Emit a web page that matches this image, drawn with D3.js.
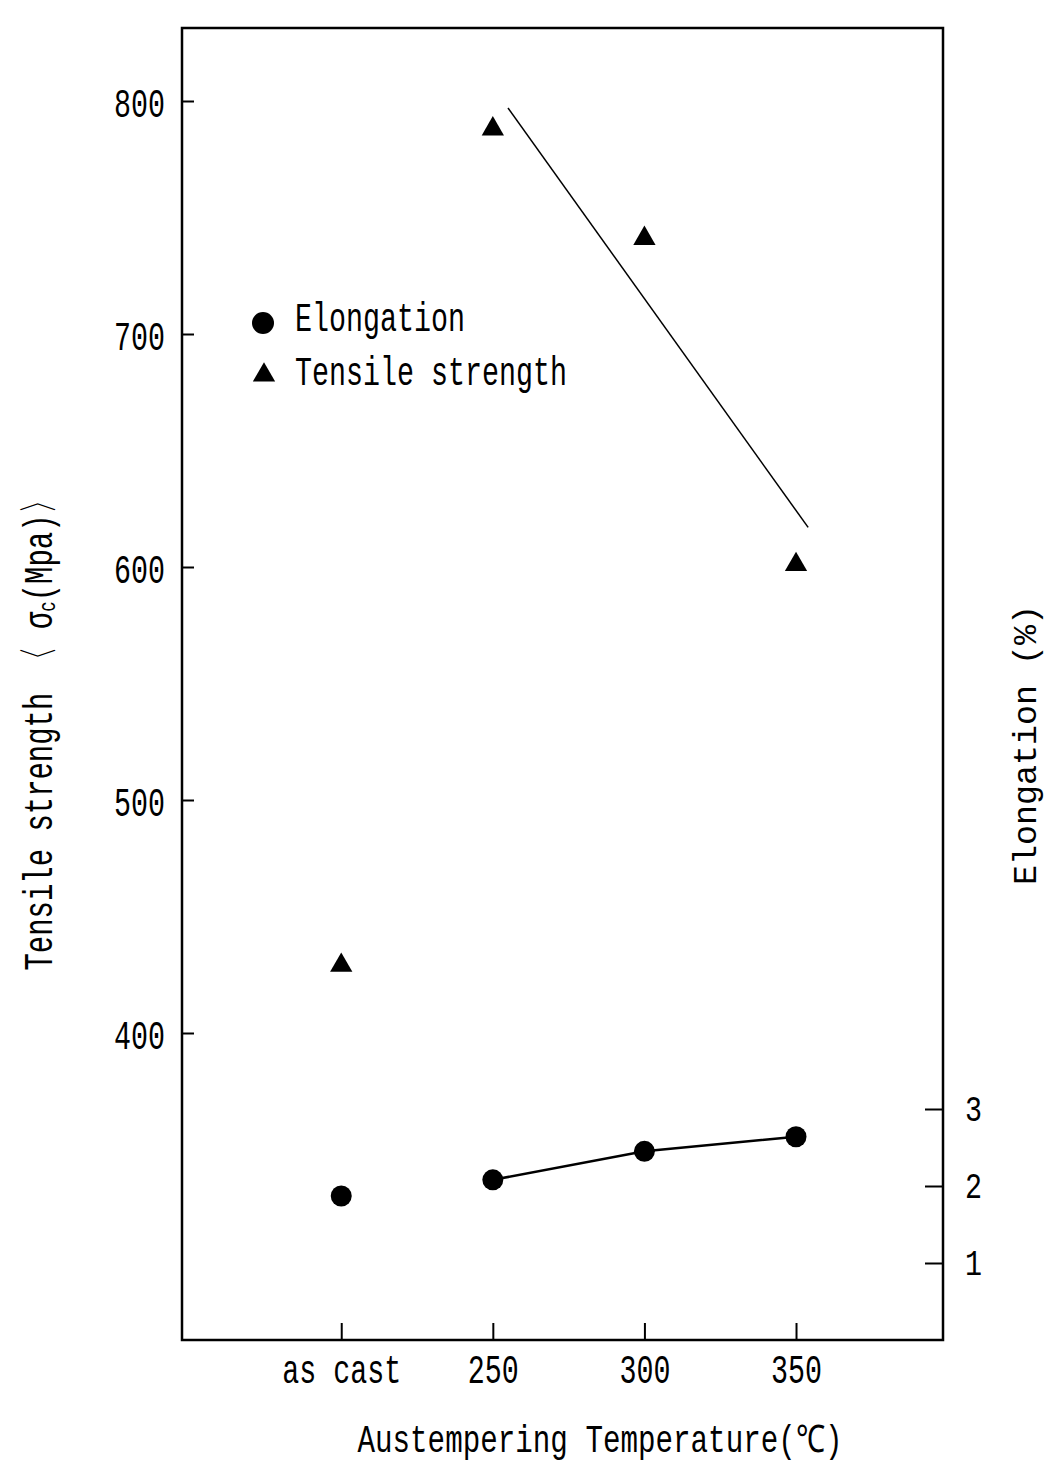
<!DOCTYPE html>
<html>
<head>
<meta charset="utf-8">
<script src="https://cdn.jsdelivr.net/npm/d3@7"></script>
<style>
  body { margin: 0; background: #fff; }
</style>
</head>
<body>
<div class="js-chart"></div>
<script>
let categories = ["as cast", "250", "300", "350"];
let tensile = [429, 788, 741, 601];          // MPa, triangles
let elongation = [1.87, 2.08, 2.45, 2.64];   // %, circles
let tensileTicks = [400, 500, 600, 700, 800];
let elongTicks = [1, 2, 3];
// straight trend line drawn through the tensile points (deg C, MPa)
let trendTemp = [255, 354];
let trendMpa = [797, 617];

let width = 1045,
    height = 1462;
let frame = {l: 182, r: 943, t: 28, b: 1340};
let font = "'Liberation Mono', 'DejaVu Sans Mono', monospace";
let adv = 17; // character advance of the narrow typewriter face

let x = d3.scalePoint().domain(categories).range([frame.l, frame.r]).padding(1.01).align(0.52);
let tempX = d3.scaleLinear().domain([250, 350]).range([x("250"), x("350")]);
let yL = d3.scaleLinear().domain([400, 800]).range([1033, 101]);
let yR = d3.scaleLinear().domain([0, 3]).range([1340, 1109]);

let svg = d3.select(".js-chart").append("svg")
    .attr("width", width)
    .attr("height", height)
    .style("font-family", font);

function squeeze(sel) {
    sel.attr("textLength", function() { return this.textContent.length * adv; })
       .attr("lengthAdjust", "spacingAndGlyphs");
}

// frame
svg.append("rect")
    .attr("x", frame.l).attr("y", frame.t)
    .attr("width", frame.r - frame.l).attr("height", frame.b - frame.t)
    .attr("fill", "none").attr("stroke", "#000").attr("stroke-width", 2.5);

// left axis (ticks inward)
let gL = svg.append("g").attr("transform", `translate(${frame.l},0)`)
    .call(d3.axisLeft(yL).tickValues(tensileTicks).tickSize(-12).tickPadding(17));
gL.select(".domain").remove();
gL.selectAll("line").attr("stroke-width", 2);
gL.selectAll("text").attr("dy", null).attr("y", 15)
    .style("font-family", font).style("font-size", "40px").attr("fill", "#000").call(squeeze);

// right axis, elongation (ticks inward)
let gR = svg.append("g").attr("transform", `translate(${frame.r},0)`)
    .call(d3.axisRight(yR).tickValues(elongTicks).tickFormat(d3.format("d")).tickSize(-18).tickPadding(22));
gR.select(".domain").remove();
gR.selectAll("line").attr("stroke-width", 2);
gR.selectAll("text").attr("dy", null).attr("y", 11)
    .style("font-family", font).style("font-size", "36px").attr("fill", "#000").call(squeeze);

// bottom axis (ticks inward)
let gB = svg.append("g").attr("transform", `translate(0,${frame.b})`)
    .call(d3.axisBottom(x).tickSize(-17).tickPadding(0));
gB.select(".domain").remove();
gB.selectAll("line").attr("stroke-width", 2);
gB.selectAll("text").attr("dy", null).attr("y", 43)
    .style("font-family", font).style("font-size", "40px").attr("fill", "#000").call(squeeze);

// trend line for tensile strength
svg.append("line")
    .attr("x1", tempX(trendTemp[0])).attr("y1", yL(trendMpa[0]))
    .attr("x2", tempX(trendTemp[1])).attr("y2", yL(trendMpa[1]))
    .attr("stroke", "#000").attr("stroke-width", 1.5);

// elongation line (heat-treated samples only)
let line = d3.line().x(d => x(d.c)).y(d => yR(d.v));
let elongData = categories.map((c, i) => ({c: c, v: elongation[i]}));
svg.append("path")
    .datum(elongData.slice(1))
    .attr("d", line)
    .attr("fill", "none").attr("stroke", "#000").attr("stroke-width", 2.5);

svg.selectAll("circle.elong")
    .data(elongData)
    .join("circle")
    .attr("class", "elong")
    .attr("cx", d => x(d.c)).attr("cy", d => yR(d.v)).attr("r", 10.5)
    .attr("fill", "#000");

let tri = d3.symbol().type(d3.symbolTriangle).size(215);
svg.selectAll("path.tens")
    .data(categories.map((c, i) => ({c: c, v: tensile[i]})))
    .join("path")
    .attr("class", "tens")
    .attr("transform", d => `translate(${x(d.c)},${yL(d.v)})`)
    .attr("d", tri)
    .attr("fill", "#000");

// legend
let legend = svg.append("g");
legend.append("circle").attr("cx", 263).attr("cy", 323).attr("r", 11).attr("fill", "#000");
legend.append("path").attr("transform", "translate(264,375)").attr("d", tri).attr("fill", "#000");
legend.append("text").attr("x", 295).attr("y", 331).text("Elongation")
    .style("font-size", "40px").call(squeeze);
legend.append("text").attr("x", 295).attr("y", 385).text("Tensile strength")
    .style("font-size", "40px").call(squeeze);

// axis titles
svg.append("text")
    .attr("x", 600).attr("y", 1452).attr("text-anchor", "middle")
    .style("font-size", "38px")
    .text("Austempering Temperature(℃)")
    .attr("textLength", 485).attr("lengthAdjust", "spacingAndGlyphs");

let tl = svg.append("text")
    .attr("transform", "translate(52,728) rotate(-90)")
    .attr("text-anchor", "middle")
    .style("font-size", "40px")
    .attr("textLength", 485).attr("lengthAdjust", "spacingAndGlyphs");
tl.append("tspan").text("Tensile strength 〈 σ");
tl.append("tspan").text("c").style("font-size", "24px").attr("dy", 3);
tl.append("tspan").text("(Mpa)〉").attr("dy", -3);

svg.append("text")
    .attr("transform", "translate(1036,745) rotate(-90)")
    .attr("text-anchor", "middle")
    .style("font-size", "34px")
    .text("Elongation   (%)")
    .attr("textLength", 280).attr("lengthAdjust", "spacingAndGlyphs");
</script>
</body>
</html>
